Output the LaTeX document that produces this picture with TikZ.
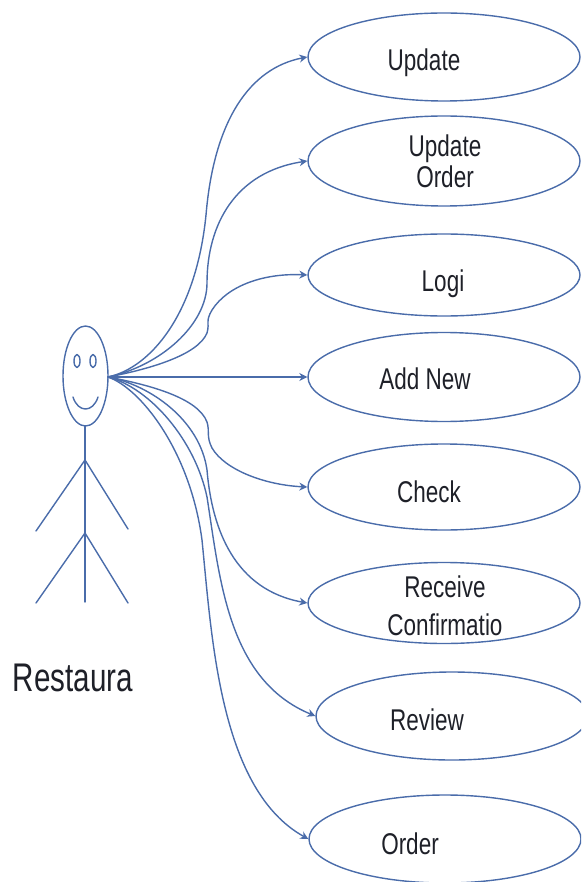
\documentclass[tikz,border=0pt]{standalone}
\usepackage{fontspec}
\setmainfont{Liberation Sans}
\usetikzlibrary{shapes.geometric, arrows.meta}
\definecolor{umlblue}{RGB}{74,108,170}
\definecolor{umltext}{RGB}{30,32,40}
\tikzset{
	usecase/.style={draw=umlblue, ellipse, line width=1.4pt, minimum width=272pt, inner sep=0pt},
	usetext/.style={text=umltext, font=\fontsize{30}{31}\selectfont, align=center, inner sep=0pt, xscale=0.75, transform shape},
	actorline/.style={draw=umlblue, line width=1.4pt},
	link/.style={draw=umlblue, line width=1.4pt, -{Stealth[length=8pt,width=8pt]}},
}
\begin{document}
\begin{tikzpicture}[x=1pt, y=-1pt, line cap=round, line join=round]
	\useasboundingbox (0,0) rectangle (581,882);
	\clip (0,0) rectangle (581,882);
	% use cases
	\node[usecase, minimum height=88pt] (update) at (444,57) {};
	\node[usecase, minimum height=90pt] (updateorder) at (444,161) {};
	\node[usecase, minimum height=82pt] (logi) at (444,275) {};
	\node[usecase, minimum height=89pt] (addnew) at (444,377) {};
	\node[usecase, minimum height=86pt] (check) at (444,487) {};
	\node[usecase, minimum height=81pt] (receive) at (444,603) {};
	\node[usecase, minimum height=88pt] (review) at (452,716) {};
	\node[usecase, minimum height=88pt] (order) at (445,839) {};
	\node[usetext, anchor=base] (tupdate) at (424,71) {Update};
	\node[usetext] (tupdateorder) at (445,161) {Update\\Order};
	\node[usetext, anchor=base] (tlogi) at (443,291) {Logi};
	\node[usetext, anchor=base] (taddnew) at (425,389) {Add New};
	\node[usetext, anchor=base] (tcheck) at (429,502) {Check};
	\node[usetext] (treceive) at (445,606) {Receive\\[7pt]Confirmatio};
	\node[usetext, anchor=base] (treview) at (427,730) {Review};
	\node[usetext, anchor=base] (torder) at (410,854) {Order};
	% actor
	\draw[actorline] (85.5,376) ellipse (22.5pt and 50pt);
	\draw[actorline] (77,361) ellipse (3pt and 6.5pt);
	\draw[actorline] (93,361) ellipse (3pt and 6.5pt);
	\draw[actorline] (73,397) .. controls (78,413) and (93,413) .. (98,397);
	\coordinate (neck) at (85,426);
	\coordinate (waist) at (85,460);
	\coordinate (hip) at (85,533);
	\coordinate (foot) at (85,602);
	\draw[actorline] (neck) -- (foot);
	\draw[actorline] (36,531) -- (waist) -- (128,529);
	\draw[actorline] (36,603) -- (hip) -- (128,603);
	\node[text=umltext, font=\fontsize{40}{42}\selectfont, xscale=0.74, transform shape, inner sep=0pt, anchor=base] (actorname) at (73,691) {Restaura};
	% connectors
	\coordinate (face) at (108,377);
	\draw[link] (face) .. controls (150,368) and (196,315) .. (206,215) .. controls (214,120) and (250,68) .. (update.west);
	\draw[link] (face) .. controls (160,366) and (207,325) .. (207,283) .. controls (207,225) and (235,172) .. (updateorder.west);
	\draw[link] (face) .. controls (150,369) and (198,355) .. (207,333) .. controls (210,322) and (205,322) .. (212,310) .. controls (228,285) and (265,273) .. (logi.west);
	\draw[link, line width=2pt] (face) -- (addnew.west);
	\draw[link] (face) .. controls (150,385) and (198,398) .. (207,422) .. controls (210,432) and (206,436) .. (212,448) .. controls (225,470) and (265,485) .. (check.west);
	\draw[link] (face) .. controls (150,385) and (200,420) .. (207,470) .. controls (212,530) and (235,590) .. (receive.west);
	\draw[link] (face) .. controls (150,388) and (195,440) .. (207,497) .. controls (220,580) and (228,680) .. (review.west);
	\draw[link] (face) .. controls (140,388) and (190,450) .. (202,540) .. controls (212,640) and (220,790) .. (order.west);
\end{tikzpicture}
\end{document}
